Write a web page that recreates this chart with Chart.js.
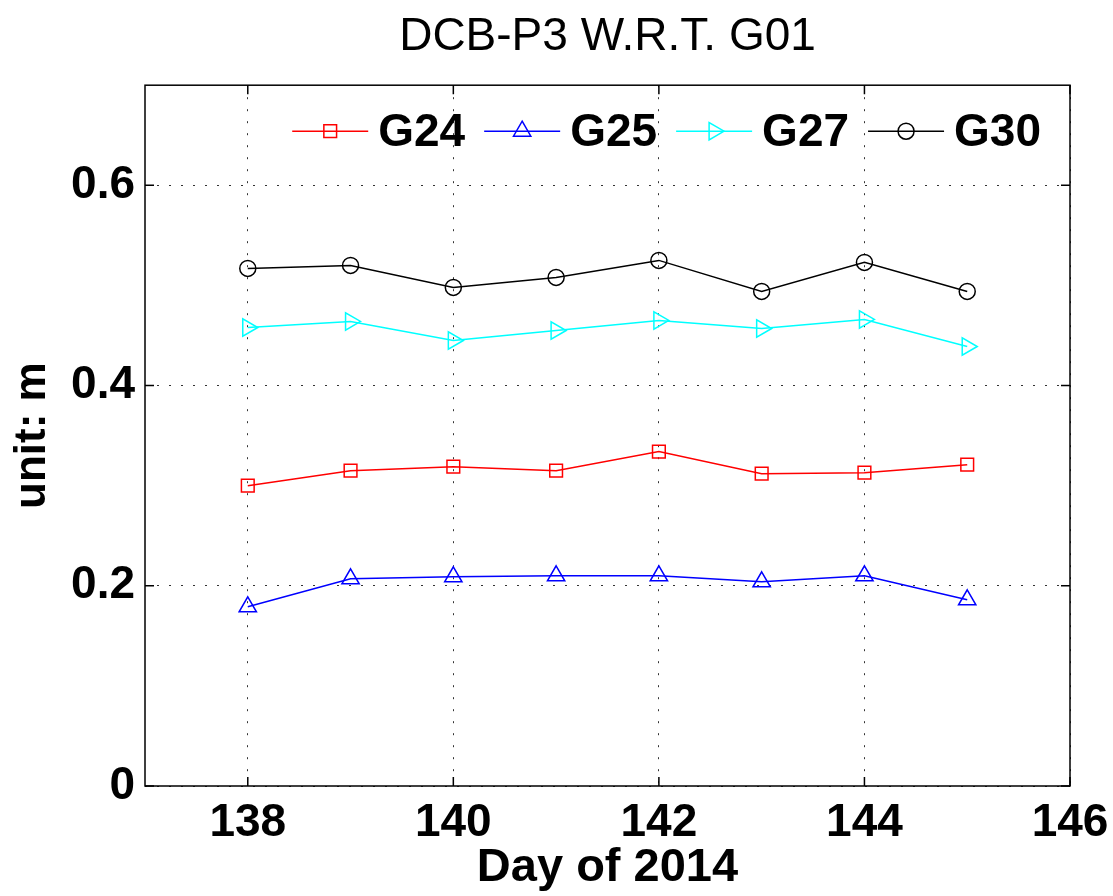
<!DOCTYPE html>
<html>
<head>
<meta charset="utf-8">
<script src="https://cdn.jsdelivr.net/npm/chart.js@4.4.0/dist/chart.umd.min.js"></script>
<style>
  html, body { margin: 0; padding: 0; background: #fff; }
</style>
</head>
<body>
<canvas id="grafico" width="1113" height="896"></canvas>
<script>
const dias = [138, 139, 140, 141, 142, 143, 144, 145];
const g24 = [0.300, 0.315, 0.319, 0.315, 0.334, 0.312, 0.313, 0.321];
const g25 = [0.179, 0.207, 0.209, 0.210, 0.210, 0.204, 0.210, 0.186];
const g27 = [0.458, 0.464, 0.445, 0.455, 0.465, 0.457, 0.466, 0.439];
const g30 = [0.517, 0.520, 0.498, 0.508, 0.525, 0.494, 0.523, 0.494];
const xTicks = [138, 140, 142, 144, 146];
const yTicks = [0, 0.2, 0.4, 0.6];

const fuente = '"Liberation Sans", Arial, Helvetica, sans-serif';

function serie(label, valores, color, estilo, radio, rot) {
  return {
    label: label,
    data: dias.map((d, i) => ({ x: d, y: valores[i] })),
    borderColor: color,
    borderWidth: 1.5,
    pointStyle: estilo,
    pointRadius: radio,
    pointRotation: rot || 0,
    pointBorderColor: color,
    pointBackgroundColor: 'rgba(0,0,0,0)',
    pointBorderWidth: 1.5,
    tension: 0,
    fill: false
  };
}

// caja, marcas interiores y leyenda dentro del area
const marco = {
  id: 'marco',
  afterDatasetsDraw(chart) {
    const { ctx, chartArea: a, scales: { x, y } } = chart;
    ctx.save();
    ctx.setLineDash([]);
    ctx.strokeStyle = '#000';
    ctx.lineWidth = 1.5;
    ctx.strokeRect(a.left, a.top, a.right - a.left, a.bottom - a.top);
    const t = 9;
    ctx.beginPath();
    xTicks.forEach(v => {
      const px = x.getPixelForValue(v);
      ctx.moveTo(px, a.bottom); ctx.lineTo(px, a.bottom - t);
      ctx.moveTo(px, a.top); ctx.lineTo(px, a.top + t);
    });
    yTicks.forEach(v => {
      const py = y.getPixelForValue(v);
      ctx.moveTo(a.left, py); ctx.lineTo(a.left + t, py);
      ctx.moveTo(a.right, py); ctx.lineTo(a.right - t, py);
    });
    ctx.stroke();

    // leyenda
    ctx.font = 'bold 46px ' + fuente;
    const sets = chart.data.datasets;
    const linea = 76, hueco = 10, sep = 19;
    let total = 0;
    sets.forEach(ds => { total += linea + hueco + ctx.measureText(ds.label).width; });
    total += sep * (sets.length - 1);
    let px = a.right - 29 - total;
    const py = a.top + 46;
    sets.forEach(ds => {
      ctx.strokeStyle = ds.borderColor;
      ctx.lineWidth = 1.5;
      ctx.beginPath();
      ctx.moveTo(px, py); ctx.lineTo(px + linea, py);
      ctx.stroke();
      ctx.fillStyle = 'rgba(0,0,0,0)';
      Chart.helpers.drawPoint(ctx, {
        pointStyle: ds.pointStyle, rotation: ds.pointRotation,
        radius: ds.pointRadius, borderWidth: 1.5
      }, px + linea / 2, py);
      ctx.fillStyle = '#000';
      ctx.textAlign = 'left';
      ctx.textBaseline = 'middle';
      ctx.fillText(ds.label, px + linea + hueco, py + 2);
      px += linea + hueco + ctx.measureText(ds.label).width + sep;
    });
    ctx.restore();
  }
};

const ctx = document.getElementById('grafico').getContext('2d');
new Chart(ctx, {
  type: 'line',
  data: {
    datasets: [
      serie('G24', g24, '#ff0000', 'rect', 9),
      serie('G25', g25, '#0000ff', 'triangle', 10),
      serie('G27', g27, '#00ffff', 'triangle', 10, 90),
      serie('G30', g30, '#000000', 'circle', 8)
    ]
  },
  options: {
    responsive: false,
    animation: false,
    devicePixelRatio: 1,
    layout: { padding: { left: 0, right: 43, top: 0, bottom: 0 } },
    plugins: {
      legend: { display: false },
      tooltip: { enabled: false },
      title: {
        display: true,
        text: 'DCB-P3 W.R.T. G01',
        color: '#000',
        fullSize: false,
        font: { family: fuente, size: 46, weight: 'normal' },
        padding: { top: 10, bottom: 20 }
      }
    },
    scales: {
      x: {
        type: 'linear',
        min: 137,
        max: 146,
        afterBuildTicks: s => { s.ticks = xTicks.map(v => ({ value: v })); },
        afterFit: s => { s.height = 110; s.paddingLeft = 0; s.paddingRight = 0; },
        grid: { color: '#333', lineWidth: 1, drawTicks: false },
        border: { display: false, dash: [2, 10] },
        ticks: {
          color: '#000', padding: 10, maxRotation: 0,
          font: { family: fuente, size: 46, weight: 'bold' },
          callback: v => String(v)
        },
        title: {
          display: true, text: 'Day of 2014', color: '#000',
          font: { family: fuente, size: 47, weight: 'bold' },
          padding: { top: 0, bottom: 0 }
        }
      },
      y: {
        min: 0,
        max: 0.7,
        afterBuildTicks: s => { s.ticks = yTicks.map(v => ({ value: v })); },
        afterFit: s => { s.width = 145; },
        grid: { color: '#333', lineWidth: 1, drawTicks: false },
        border: { display: false, dash: [2, 10] },
        ticks: {
          color: '#000', padding: 10,
          font: { family: fuente, size: 46, weight: 'bold' },
          callback: v => String(v)
        },
        title: {
          display: true, text: 'unit: m', color: '#000',
          font: { family: fuente, size: 44, weight: 'bold' },
          padding: { top: 6, bottom: 0 }
        }
      }
    }
  },
  plugins: [marco]
});
</script>
</body>
</html>
